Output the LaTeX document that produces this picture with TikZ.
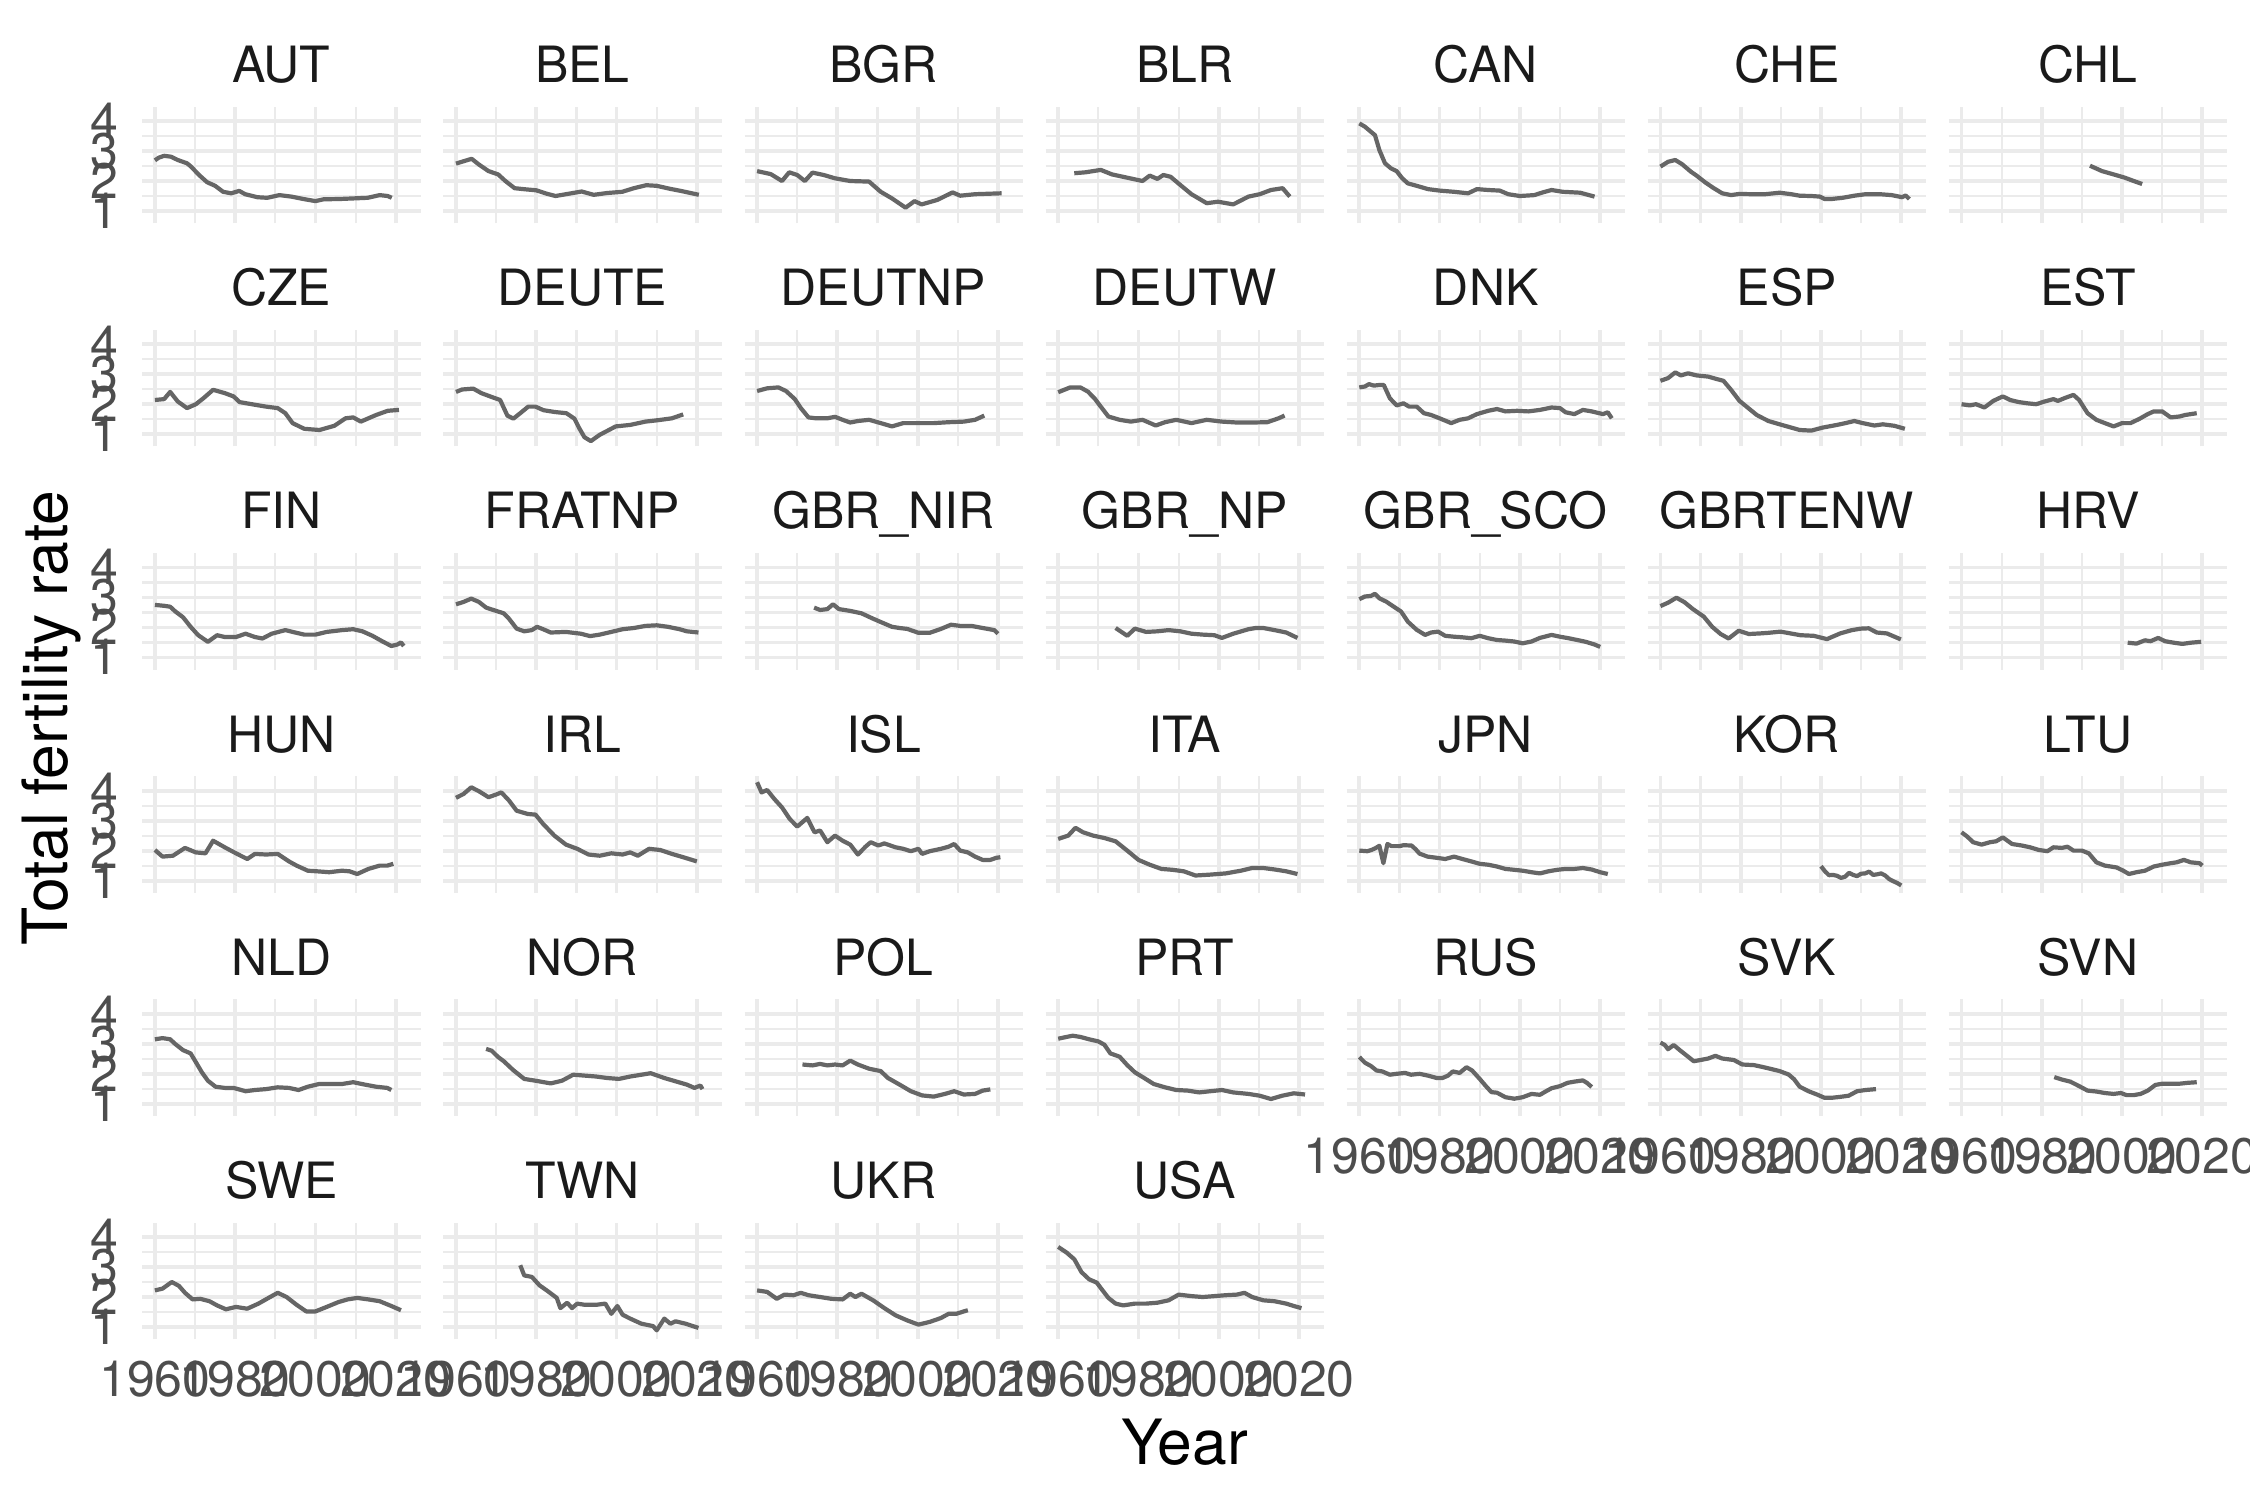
\documentclass[tikz,border=0pt]{standalone}
\usepackage{fontspec}
\setmainfont{TeX Gyre Heros}
\definecolor{gridc}{HTML}{EBEBEB}
\definecolor{linec}{HTML}{666666}
\definecolor{axtext}{HTML}{4D4D4D}
\definecolor{striptext}{HTML}{1A1A1A}
\tikzset{
  pnl/.style 2 args={shift={({154.9+#1*301.1},{211+#2*223.2})},x=2.007pt,y=15pt,shift={(-1960,-1)}},
  gmaj/.style={draw=gridc,line width=1.9pt},
  gmin/.style={draw=gridc,line width=1.1pt},
  dline/.style={draw=linec,line width=2.1pt,line join=round},
  striplab/.style={anchor=base,text=striptext,font=\fontsize{25}{25}\selectfont,inner sep=0pt},
  ticklab/.style={text=axtext,font=\fontsize{25}{25}\selectfont,inner sep=0pt},
  titlelab/.style={text=black,font=\fontsize{31.2}{31.2}\selectfont,inner sep=0pt}
}
% #1 col, #2 row, #3 node id, #4 label, #5 y offset, #6 coordinates
\newcommand\fpanel[6]{%
\begin{scope}[pnl={#1}{#2}]
  \foreach \yy in {1.5,2.5,3.5}{\draw[gmin] (1956.86,\yy) -- (2026.17,\yy);}
  \foreach \xx in {1970,1990,2010}{\draw[gmin] (\xx,0.594) -- (\xx,4.48);}
  \foreach \yy in {1,2,3,4}{\draw[gmaj] (1956.86,\yy) -- (2026.17,\yy);}
  \foreach \xx in {1960,1980,2000,2020}{\draw[gmaj] (\xx,0.594) -- (\xx,4.48);}
  \begin{scope}[shift={(0,#5)}]
    \draw[dline] plot coordinates {#6};
  \end{scope}
  \node[striplab] (s#3) at (1991.5,5.283) {#4};
\end{scope}}
\newcommand\xlabs[2]{%
\begin{scope}[pnl={#1}{#2}]
  \foreach \xx in {1960,1980,2000,2020}{\node[ticklab,anchor=base] (x#1#2\xx) at (\xx,-1.307) {\xx};}
\end{scope}}
\newcommand\ylabs[1]{%
\begin{scope}[pnl={0}{#1}]
  \foreach \yy in {1,2,3,4}{\node[ticklab,anchor=base east] (y#1\yy) at (1951.06,\yy-0.583) {\yy};}
\end{scope}}
\begin{document}
\begin{tikzpicture}[x=0.5pt,y=-0.5pt]
\useasboundingbox (0,0) rectangle (2250,1500);
\fill[white] (0,0) rectangle (2250,1500);
% ---------- row 0
\fpanel{0}{0}{aut}{AUT}{0}{(1960,2.69) (1961,2.78) (1962.3,2.84) (1964,2.81) (1965.7,2.70) (1968,2.59) (1969,2.48) (1971,2.20) (1973,1.96) (1975,1.84) (1977,1.64) (1979,1.59) (1981,1.67) (1982.5,1.56) (1985.5,1.46) (1988,1.44) (1991,1.53) (1994,1.48) (1997,1.40) (2000,1.33) (2002,1.39) (2006,1.40) (2009.5,1.42) (2013,1.44) (2016,1.53) (2018,1.50) (2019,1.44)}
\fpanel{1}{0}{bel}{BEL}{0}{(1960,2.58) (1961.2,2.63) (1963.9,2.74) (1965.7,2.55) (1968.1,2.33) (1970.5,2.22) (1972.3,2.0) (1974.6,1.76) (1977.5,1.72) (1980,1.69) (1982.5,1.58) (1984.8,1.50) (1987.4,1.56) (1991.3,1.65) (1994.3,1.54) (1997.7,1.60) (2001.4,1.64) (2004.3,1.76) (2007.4,1.86) (2010,1.84) (2013.3,1.74) (2016,1.67) (2020.5,1.54)}
\fpanel{2}{0}{bgr}{BGR}{0}{(1960,2.33) (1963.4,2.23) (1966.2,2.0) (1968,2.29) (1970,2.2) (1971.9,2.0) (1973.8,2.28) (1976.6,2.2) (1979.4,2.09) (1983.2,2.0) (1987.9,1.98) (1990.8,1.64) (1993.6,1.42) (1997,1.11) (1999.2,1.33) (2001,1.22) (2004.9,1.37) (2008.7,1.62) (2010.6,1.51) (2014.3,1.56) (2020.9,1.59)}
\fpanel{3}{0}{blr}{BLR}{0}{(1964,2.26) (1966.8,2.29) (1970.6,2.37) (1973.4,2.22) (1977.2,2.11) (1981,2.0) (1982.8,2.18) (1984.7,2.07) (1986.2,2.2) (1988,2.14) (1990.4,1.87) (1993.2,1.56) (1997,1.26) (1999.8,1.31) (2003.6,1.22) (2007.4,1.48) (2010.2,1.56) (2013,1.70) (2015.9,1.76) (2017.7,1.48)}
\fpanel{4}{0}{can}{CAN}{0}{(1960,3.92) (1961.4,3.81) (1962.9,3.64) (1963.9,3.53) (1965,3.03) (1966.4,2.59) (1967.9,2.42) (1969.3,2.33) (1970.7,2.09) (1972.1,1.92) (1974.3,1.84) (1977.1,1.73) (1980,1.68) (1983.6,1.64) (1987.1,1.59) (1989.3,1.73) (1992.1,1.70) (1995,1.68) (1997.1,1.56) (2000,1.50) (2003.6,1.53) (2005.7,1.62) (2007.9,1.70) (2010.7,1.64) (2015,1.61) (2018.6,1.48)}
\fpanel{5}{0}{che}{CHE}{0}{(1960,2.48) (1961.9,2.64) (1963.7,2.70) (1965.4,2.56) (1967.6,2.31) (1969,2.18) (1971.1,1.96) (1973.3,1.76) (1975.4,1.59) (1977.6,1.53) (1979.7,1.57) (1982.6,1.56) (1986.1,1.56) (1989.7,1.61) (1992.6,1.56) (1994.7,1.51) (1997.6,1.50) (1999.7,1.48) (2000.9,1.40) (2002.6,1.40) (2005.4,1.44) (2008.3,1.51) (2011.1,1.56) (2014.7,1.56) (2017.6,1.53) (2020.2,1.46) (2021.1,1.52) (2022,1.40)}
\fpanel{6}{0}{chl}{CHL}{0}{(1992,2.51) (1995,2.33) (1997.9,2.22) (2000.7,2.11) (2002.9,2.0) (2005,1.9)}
% ---------- row 1
\fpanel{0}{1}{cze}{CZE}{0}{(1960,2.14) (1962.3,2.17) (1963.8,2.41) (1965.7,2.09) (1968,1.87) (1970.2,2.0) (1972.1,2.2) (1974.5,2.48) (1977.4,2.37) (1979.6,2.26) (1981.1,2.07) (1985,1.98) (1987.7,1.92) (1990.6,1.87) (1992.5,1.70) (1994.3,1.37) (1997.2,1.18) (2001,1.14) (2004.7,1.28) (2007.5,1.53) (2009.4,1.56) (2011.3,1.42) (2015.1,1.64) (2018,1.78) (2020.8,1.81)}
\fpanel{1}{1}{deute}{DEUTE}{0}{(1960,2.41) (1961.5,2.49) (1964.3,2.52) (1966.3,2.37) (1968.9,2.24) (1971,2.14) (1972.8,1.62) (1974.3,1.52) (1976,1.70) (1978,1.92) (1979.8,1.92) (1981.8,1.80) (1984.6,1.74) (1987.5,1.70) (1989.5,1.52) (1990.7,1.20) (1992,0.90) (1993.6,0.77) (1995.8,0.98) (1999.8,1.26) (2003.4,1.31) (2007.2,1.42) (2010.5,1.47) (2013.8,1.53) (2016.6,1.66)}
\fpanel{2}{1}{deutnp}{DEUTNP}{0}{(1960,2.44) (1962.5,2.53) (1965.3,2.56) (1967.2,2.44) (1969.4,2.17) (1970.9,1.87) (1972.8,1.56) (1974.7,1.53) (1977.5,1.53) (1979.4,1.58) (1981.3,1.48) (1983.2,1.39) (1985.1,1.44) (1987.9,1.48) (1990.8,1.37) (1993.6,1.26) (1996.4,1.37) (2000.2,1.37) (2004,1.37) (2007.7,1.40) (2011.5,1.42) (2014.3,1.48) (2016.6,1.62)}
\fpanel{3}{1}{deutw}{DEUTW}{0}{(1960,2.40) (1963,2.56) (1965.5,2.56) (1967.4,2.42) (1969.2,2.17) (1970.6,1.92) (1972.5,1.59) (1975.3,1.48) (1978.1,1.42) (1981,1.48) (1984.3,1.29) (1986.6,1.40) (1989.4,1.48) (1993.2,1.37) (1997,1.48) (2000.8,1.42) (2004.5,1.39) (2008.3,1.39) (2012.1,1.40) (2014.9,1.53) (2016.4,1.62)}
\fpanel{4}{1}{dnk}{DNK}{0}{(1960,2.56) (1961.4,2.59) (1962.4,2.67) (1963.6,2.62) (1965,2.64) (1966.1,2.64) (1967.6,2.2) (1969.3,1.96) (1971,2.03) (1972.4,1.92) (1974.3,1.92) (1976.1,1.70) (1977.9,1.64) (1980,1.53) (1982.9,1.37) (1985,1.48) (1987.1,1.53) (1989.3,1.67) (1992.1,1.78) (1994.3,1.84) (1996.4,1.76) (1999.3,1.78) (2002.1,1.76) (2005,1.81) (2007.9,1.89) (2010,1.87) (2011.4,1.73) (2013.6,1.67) (2015.7,1.81) (2017.9,1.76) (2020.7,1.67) (2021.9,1.73) (2022.9,1.53)}
\fpanel{5}{1}{esp}{ESP}{0}{(1960,2.78) (1961.9,2.87) (1963.7,3.06) (1965.1,2.96) (1966.9,3.03) (1969,2.96) (1971.9,2.92) (1974,2.84) (1975.7,2.78) (1977.6,2.48) (1979.7,2.11) (1981.9,1.87) (1984,1.64) (1986.9,1.44) (1989.7,1.33) (1992.6,1.22) (1994.7,1.14) (1997.6,1.12) (2000.4,1.22) (2004,1.31) (2006.1,1.37) (2008.3,1.44) (2010.4,1.37) (2013.3,1.29) (2015.4,1.33) (2018.3,1.28) (2020.9,1.18)}
\fpanel{6}{1}{est}{EST}{0}{(1960,2.0) (1962.1,1.96) (1963.6,2.0) (1965.7,1.89) (1967.9,2.11) (1970.3,2.26) (1972.1,2.14) (1974.3,2.07) (1976.4,2.03) (1978.6,2.0) (1980.7,2.09) (1982.9,2.17) (1984,2.11) (1986,2.22) (1987.9,2.31) (1989.3,2.14) (1991.4,1.70) (1993.6,1.48) (1995.7,1.37) (1997.9,1.26) (2000,1.37) (2002.1,1.37) (2004.3,1.51) (2006.4,1.67) (2007.9,1.76) (2010,1.76) (2012.1,1.56) (2014.3,1.59) (2015.7,1.64) (2018.6,1.70)}
% ---------- row 2
\fpanel{0}{2}{fin}{FIN}{0.05}{(1960,2.70) (1962.3,2.67) (1963.8,2.64) (1965.1,2.48) (1967,2.29) (1968.9,1.97) (1970.8,1.69) (1973.2,1.47) (1975.5,1.69) (1977.4,1.63) (1980.2,1.63) (1982.6,1.74) (1984.9,1.63) (1986.8,1.58) (1989.1,1.74) (1992.5,1.86) (1994.3,1.8) (1997.2,1.71) (2000,1.71) (2002.8,1.8) (2006.6,1.86) (2009.4,1.89) (2011.7,1.82) (2014.2,1.67) (2016.6,1.49) (2018.9,1.33) (2020.4,1.38) (2021.3,1.45) (2022,1.33)}
\fpanel{1}{2}{fra}{FRATNP}{0.05}{(1960,2.72) (1961.9,2.8) (1963.8,2.91) (1965.7,2.8) (1967.5,2.61) (1970,2.5) (1971.9,2.42) (1973.2,2.24) (1975.1,1.91) (1977,1.82) (1978.9,1.86) (1980.2,1.97) (1981.7,1.89) (1983.6,1.78) (1987.4,1.8) (1991.1,1.74) (1993.4,1.66) (1995.8,1.71) (1998.7,1.8) (2001.5,1.89) (2004.3,1.93) (2007.2,2.0) (2010,2.02) (2012.8,1.97) (2015.7,1.89) (2017.5,1.82) (2020.4,1.78)}
\fpanel{2}{2}{nir}{GBR\_NIR}{0.05}{(1974.2,2.61) (1975.7,2.53) (1977.5,2.56) (1978.9,2.72) (1980.4,2.56) (1983.2,2.5) (1986,2.42) (1988.9,2.24) (1990.8,2.13) (1993.6,1.97) (1995.5,1.93) (1997.4,1.9) (2000.2,1.77) (2003,1.77) (2005.8,1.9) (2008.3,2.04) (2010.6,2.0) (2013.4,2.0) (2016.2,1.93) (2019.1,1.86) (2020,1.74)}
\fpanel{3}{2}{gbrnp}{GBR\_NP}{0.05}{(1974.3,1.93) (1977.2,1.67) (1979.1,1.91) (1981.9,1.8) (1984.7,1.82) (1987.5,1.86) (1990.4,1.82) (1993.2,1.74) (1996,1.71) (1998.9,1.69) (2000.8,1.6) (2003.6,1.74) (2007.4,1.89) (2009.2,1.93) (2011.1,1.93) (2013.9,1.86) (2016.8,1.78) (2019.6,1.6)}
\fpanel{4}{2}{sco}{GBR\_SCO}{0.05}{(1960,2.89) (1961.4,2.98) (1962.9,3.0) (1963.9,3.07) (1965,2.92) (1966.7,2.81) (1968.6,2.64) (1970.4,2.48) (1972.1,2.14) (1974.3,1.87) (1976.4,1.7) (1977.9,1.78) (1979.6,1.81) (1981.4,1.67) (1983.6,1.64) (1985.7,1.62) (1987.9,1.59) (1990,1.67) (1992.1,1.59) (1994.3,1.53) (1996.4,1.51) (1998.6,1.48) (2000.7,1.42) (2002.9,1.48) (2005,1.6) (2007.9,1.7) (2010,1.64) (2012.1,1.59) (2014.3,1.53) (2016.4,1.47) (2018.6,1.38) (2020,1.3)}
\fpanel{5}{2}{enw}{GBRTENW}{0}{(1960,2.71) (1962,2.83) (1964,2.99) (1966,2.84) (1968,2.62) (1970.8,2.36) (1972.9,2.02) (1975,1.78) (1977,1.63) (1979.5,1.89) (1982,1.78) (1984.9,1.80) (1987,1.82) (1989.9,1.86) (1994.9,1.74) (1998.2,1.72) (2001.5,1.61) (2004.8,1.80) (2007.7,1.91) (2010,1.96) (2011.9,1.97) (2013.9,1.83) (2016.4,1.80) (2019.9,1.60)}
\fpanel{6}{2}{hrv}{HRV}{0.05}{(2001.4,1.44) (2003.6,1.41) (2005.7,1.52) (2007.1,1.49) (2009,1.6) (2010.7,1.49) (2012.9,1.44) (2015,1.4) (2017.1,1.44) (2019.7,1.47)}
% ---------- row 3
\fpanel{0}{3}{hun}{HUN}{0}{(1960,2.02) (1961.9,1.8) (1964.5,1.83) (1967.5,2.09) (1970.2,1.94) (1972.6,1.91) (1974.5,2.33) (1977.4,2.11) (1980.2,1.91) (1983,1.72) (1984.9,1.89) (1987.7,1.87) (1990.6,1.89) (1993.4,1.64) (1995.3,1.5) (1998.1,1.33) (2000.4,1.31) (2003.4,1.28) (2006.6,1.33) (2008.5,1.31) (2010.4,1.22) (2013.2,1.39) (2016,1.5) (2017.9,1.5) (2019.4,1.56)}
\fpanel{1}{3}{irl}{IRL}{0}{(1960,3.76) (1961.9,3.89) (1963.8,4.11) (1965.7,3.98) (1968.1,3.78) (1970,3.87) (1971.3,3.94) (1973.2,3.67) (1975.1,3.33) (1977.9,3.22) (1979.8,3.2) (1981.7,2.89) (1984.5,2.5) (1987.4,2.2) (1990.2,2.06) (1993,1.87) (1995.8,1.83) (1998.7,1.91) (2001.5,1.87) (2003.4,1.94) (2005.3,1.83) (2008.1,2.06) (2010.9,2.02) (2013.8,1.89) (2016.6,1.78) (2020,1.64)}
\fpanel{2}{3}{isl}{ISL}{0}{(1960,4.28) (1961.1,3.94) (1962.5,4.02) (1964.3,3.72) (1966.2,3.44) (1968.1,3.06) (1970,2.8) (1972.5,3.09) (1974.3,2.61) (1975.7,2.67) (1977.5,2.28) (1979.4,2.5) (1981.3,2.33) (1983.2,2.2) (1985.1,1.87) (1987,2.13) (1988.3,2.28) (1990.2,2.17) (1991.7,2.24) (1994.5,2.11) (1996.4,2.06) (1998.3,1.98) (2000.2,2.06) (2001.1,1.89) (2003,1.98) (2005.8,2.06) (2007.7,2.13) (2009.1,2.22) (2010.6,2.0) (2012.5,1.94) (2014.3,1.8) (2016.2,1.69) (2018.1,1.69) (2019.6,1.76) (2020.6,1.78)}
\fpanel{3}{3}{ita}{ITA}{0}{(1960,2.39) (1962.5,2.5) (1964.3,2.76) (1966.2,2.61) (1968.7,2.5) (1971.5,2.42) (1974.3,2.31) (1977.2,2.0) (1980,1.69) (1982.8,1.53) (1985.7,1.39) (1988.5,1.36) (1991.3,1.31) (1994.2,1.17) (1997.9,1.2) (2001.7,1.24) (2005.5,1.33) (2008.3,1.42) (2011.1,1.42) (2014,1.37) (2016.8,1.31) (2019.6,1.22)}
\fpanel{4}{3}{jpn}{JPN}{0}{(1960,2.0) (1962,1.98) (1963,2.02) (1964,2.08) (1965,2.16) (1966,1.58) (1967,2.22) (1968,2.15) (1970,2.15) (1971,2.18) (1973,2.17) (1974,2.05) (1975,1.9) (1977,1.8) (1979.3,1.76) (1981.4,1.72) (1983.6,1.8) (1985.7,1.72) (1987.9,1.64) (1990,1.56) (1992.1,1.53) (1994.3,1.47) (1996.4,1.39) (1998.6,1.36) (2000.7,1.33) (2002.9,1.28) (2005,1.24) (2007.1,1.31) (2009.3,1.36) (2011.4,1.39) (2013.6,1.39) (2015.7,1.42) (2017.9,1.37) (2020,1.28) (2021.9,1.22)}
\fpanel{5}{3}{kor}{KOR}{0}{(2000,1.48) (2001,1.31) (2002,1.18) (2003,1.19) (2004,1.16) (2005,1.09) (2006,1.13) (2007,1.26) (2008,1.19) (2009,1.15) (2010,1.23) (2011,1.24) (2012,1.30) (2013,1.19) (2014,1.21) (2015,1.24) (2016,1.17) (2017,1.05) (2018,0.98) (2019,0.92) (2020,0.84)}
\fpanel{6}{3}{ltu}{LTU}{0}{(1960,2.61) (1961.4,2.47) (1962.9,2.28) (1965,2.2) (1967.1,2.28) (1968.6,2.31) (1970.3,2.44) (1972.6,2.22) (1975,2.17) (1977.1,2.11) (1979.3,2.02) (1981.4,1.98) (1982.9,2.11) (1985,2.09) (1986.4,2.13) (1987.9,2.0) (1990,2.0) (1991.7,1.91) (1993.6,1.61) (1995.7,1.5) (1998.6,1.44) (2000.3,1.33) (2001.7,1.22) (2003.6,1.28) (2005.7,1.33) (2007.9,1.47) (2010,1.53) (2012.1,1.58) (2013.6,1.61) (2015.4,1.69) (2017.1,1.61) (2019.3,1.58) (2020,1.5)}
% ---------- row 4
\fpanel{0}{4}{nld}{NLD}{0.05}{(1960,3.1) (1961.9,3.14) (1963.8,3.1) (1965.1,2.94) (1967,2.74) (1968.9,2.63) (1970.2,2.34) (1971.7,2.0) (1973.2,1.72) (1975.1,1.52) (1977.4,1.48) (1979.6,1.48) (1982.6,1.37) (1984.9,1.41) (1987.7,1.44) (1990.6,1.5) (1993.4,1.48) (1995.8,1.41) (1998.1,1.52) (2000.9,1.61) (2003.8,1.61) (2006.6,1.61) (2009.4,1.67) (2012.3,1.59) (2015.1,1.52) (2017.9,1.48) (2018.9,1.41)}
\fpanel{1}{4}{nor}{NOR}{0.05}{(1967.5,2.78) (1968.9,2.72) (1970.4,2.52) (1971.9,2.37) (1974.2,2.08) (1977,1.78) (1979.8,1.72) (1983.6,1.63) (1986.4,1.72) (1989.2,1.92) (1992.1,1.89) (1994.9,1.86) (1997.7,1.81) (2000.6,1.78) (2003.4,1.86) (2006.2,1.92) (2008.5,1.97) (2011.9,1.81) (2014.7,1.70) (2017.5,1.59) (2019.4,1.48) (2020.9,1.56) (2021.4,1.44)}
\fpanel{2}{4}{pol}{POL}{0.05}{(1971.3,2.26) (1973.8,2.23) (1975.7,2.28) (1977.5,2.23) (1979.4,2.26) (1981.3,2.23) (1983.2,2.39) (1985.1,2.26) (1987.9,2.12) (1990.8,2.04) (1992.6,1.81) (1995.5,1.59) (1998.3,1.37) (2001.1,1.23) (2004,1.19) (2006.8,1.28) (2009.1,1.37) (2011.5,1.26) (2014.3,1.28) (2016.2,1.39) (2018.1,1.43)}
\fpanel{3}{4}{prt}{PRT}{0.05}{(1960,3.12) (1962.1,3.18) (1963.6,3.22) (1965.5,3.18) (1967.7,3.1) (1970,3.03) (1971.5,2.92) (1973,2.63) (1975.3,2.52) (1977.2,2.24) (1979.1,2.0) (1981.3,1.82) (1983.8,1.61) (1986.6,1.50) (1989.4,1.41) (1992.3,1.39) (1995.1,1.33) (1997.9,1.37) (2000.8,1.41) (2003.6,1.33) (2007.4,1.28) (2010.2,1.22) (2013,1.11) (2015.8,1.22) (2018.7,1.30) (2021.5,1.26)}
\fpanel{4}{4}{rus}{RUS}{0}{(1960,2.56) (1961.4,2.37) (1962.9,2.26) (1964.3,2.11) (1965.7,2.08) (1967.6,1.97) (1969.3,2.0) (1971.4,2.03) (1972.9,1.97) (1975,2.0) (1977.1,1.94) (1979.3,1.86) (1980.7,1.86) (1982.1,1.94) (1983.3,2.08) (1985,2.03) (1986.7,2.22) (1988.1,2.11) (1990,1.83) (1991.4,1.61) (1992.9,1.39) (1994.3,1.37) (1996.4,1.22) (1998.6,1.17) (2000.7,1.22) (2002.9,1.33) (2005,1.3) (2006.4,1.41) (2007.9,1.52) (2010,1.59) (2011.9,1.70) (2013.6,1.74) (2015.7,1.78) (2016.7,1.70) (2017.9,1.56)}
\fpanel{5}{4}{svk}{SVK}{0}{(1960,3.04) (1961.1,2.96) (1961.9,2.82) (1963.3,2.96) (1965.1,2.76) (1966.9,2.57) (1968.3,2.42) (1970,2.46) (1971.9,2.51) (1973.7,2.6) (1975.4,2.51) (1978.3,2.46) (1980.4,2.31) (1983.3,2.29) (1985.4,2.23) (1987.6,2.16) (1989.7,2.09) (1991.9,1.98) (1993.3,1.82) (1994.7,1.57) (1996.9,1.42) (1999,1.31) (2000.9,1.2) (2002.6,1.2) (2004.7,1.23) (2006.9,1.27) (2009,1.42) (2011.1,1.46) (2013.7,1.49)}
\fpanel{6}{4}{svn}{SVN}{0}{(1983.1,1.89) (1985,1.81) (1987.1,1.74) (1989.3,1.59) (1991.4,1.44) (1993.6,1.41) (1995.7,1.36) (1997.9,1.33) (1999.7,1.36) (2001.1,1.29) (2002.9,1.29) (2004.6,1.33) (2006.4,1.44) (2008.3,1.63) (2010,1.67) (2012.1,1.67) (2014.3,1.67) (2016.4,1.70) (2018.6,1.72)}
% ---------- row 5
\fpanel{0}{5}{swe}{SWE}{0}{(1960,2.22) (1961.9,2.28) (1964.2,2.5) (1966,2.37) (1967.5,2.14) (1969.4,1.92) (1971.3,1.94) (1973.6,1.86) (1975.5,1.72) (1977.7,1.59) (1980.2,1.67) (1983,1.61) (1985.8,1.78) (1988.7,2.0) (1990.6,2.14) (1992.8,2.0) (1995.3,1.74) (1997.7,1.52) (2000,1.52) (2002.8,1.67) (2005.7,1.83) (2008,1.92) (2010.4,1.97) (2013.2,1.92) (2016,1.86) (2018.9,1.70) (2021.3,1.56)}
\fpanel{1}{5}{twn}{TWN}{0}{(1976,3.06) (1977,2.72) (1978.9,2.67) (1980.8,2.39) (1982.6,2.22) (1985.1,1.97) (1986,1.63) (1987.7,1.81) (1988.9,1.63) (1990.2,1.78) (1992.1,1.74) (1994.9,1.74) (1997.2,1.78) (1998.7,1.44) (2000.2,1.70) (2001.5,1.41) (2003.4,1.28) (2006.2,1.11) (2009.1,1.03) (2010,0.89) (2011.9,1.28) (2013.4,1.11) (2014.7,1.19) (2017.2,1.11) (2020.4,0.97)}
\fpanel{2}{5}{ukr}{UKR}{0}{(1960,2.22) (1962.5,2.17) (1964.9,1.94) (1966.8,2.08) (1969.1,2.06) (1970.9,2.14) (1972.8,2.06) (1975.7,2.0) (1978.5,1.94) (1981.3,1.92) (1983.2,2.11) (1984.5,2.0) (1986,2.11) (1988.9,1.89) (1991.7,1.63) (1994.5,1.39) (1997.4,1.22) (2000.2,1.08) (2003,1.17) (2005.8,1.3) (2007.7,1.44) (2009.6,1.44) (2011.5,1.52) (2012.5,1.56)}
\fpanel{3}{5}{usa}{USA}{0}{(1960,3.67) (1962.1,3.48) (1964,3.26) (1965.8,2.83) (1967.7,2.59) (1969.6,2.48) (1970.6,2.3) (1972.5,1.97) (1974.3,1.78) (1976.2,1.72) (1979.1,1.78) (1981.9,1.78) (1984.7,1.81) (1987.5,1.89) (1990,2.08) (1993.2,2.03) (1996,2.0) (1998.9,2.03) (2001.7,2.06) (2004.5,2.08) (2006.4,2.14) (2008.3,2.0) (2011.1,1.89) (2013.9,1.86) (2016.8,1.78) (2018.7,1.70) (2020.6,1.63)}
% ---------- axis labels
\foreach \r in {0,...,5}{\ylabs{\r}}
\xlabs{0}{5}\xlabs{1}{5}\xlabs{2}{5}\xlabs{3}{5}
\xlabs{4}{4}\xlabs{5}{4}\xlabs{6}{4}
\node[titlelab,anchor=base] (xt) at (1185,1464) {Year};
\node[titlelab,anchor=base,rotate=90] (yt) at (68,718) {Total fertility rate};
\end{tikzpicture}
\end{document}
